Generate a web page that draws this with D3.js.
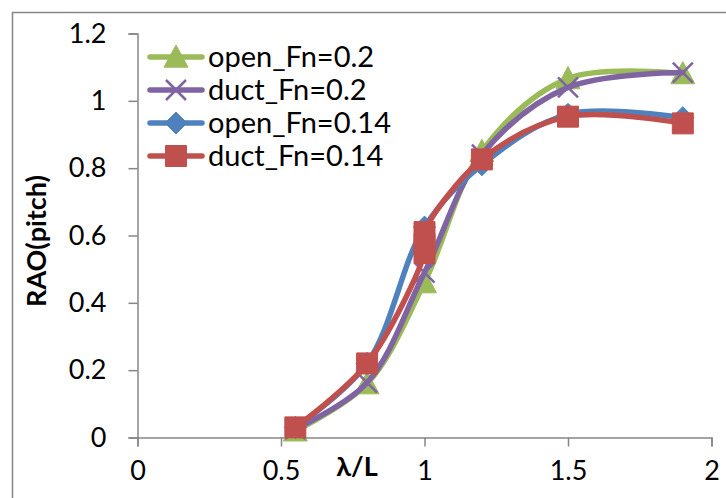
<!DOCTYPE html>
<html>
<head>
<meta charset="utf-8">
<script src="https://cdn.jsdelivr.net/npm/d3@7"></script>
<style>
  html, body { margin: 0; padding: 0; background: #fff; }
  svg { display: block; }
  text { font-family: Lato, "Open Sans", sans-serif; fill: #000; }
</style>
</head>
<body>
<div id="chart"></div>
<script>
// Data
const xLambda = [0.55, 0.8, 1.0, 1.2, 1.5, 1.9];
const openFn02 = [0.02, 0.16, 0.46, 0.85, 1.066, 1.081];
const ductFn02 = [0.025, 0.163, 0.49, 0.84, 1.04, 1.084];
const openFn014 = [0.03, 0.22, 0.625, 0.81, 0.96, 0.95];
// duct_Fn=0.14 has stacked points at λ/L = 1
const xLambdaDuct014 = [0.55, 0.8, 1.0, 1.0, 1.0, 1.2, 1.5, 1.9];
const ductFn014 = [0.03, 0.22, 0.548, 0.575, 0.61, 0.826, 0.953, 0.933];

const xTicks = [0, 0.5, 1, 1.5, 2];
const yTicks = [0, 0.2, 0.4, 0.6, 0.8, 1, 1.2];

const series = [
  { name: 'open_Fn=0.2', xs: xLambda, ys: openFn02, color: '#9BBB59', marker: 'triangle' },
  { name: 'duct_Fn=0.2', xs: xLambda, ys: ductFn02, color: '#8064A2', marker: 'cross' },
  { name: 'open_Fn=0.14', xs: xLambda, ys: openFn014, color: '#4F81BD', marker: 'diamond' },
  { name: 'duct_Fn=0.14', xs: xLambdaDuct014, ys: ductFn014, color: '#C0504D', marker: 'square' }
];

const width = 726;
const height = 498;

const svg = d3.select('#chart')
  .append('svg')
  .attr('width', width)
  .attr('height', height)
  .attr('viewBox', [0, 0, width, height]);

// chart area border
svg.append('rect')
  .attr('x', 12.5)
  .attr('y', 12.5)
  .attr('width', 800)
  .attr('height', 600)
  .attr('fill', 'none')
  .attr('stroke', '#868686')
  .attr('stroke-width', 1.5);

const x = d3.scaleLinear().domain([0, 2]).range([137.5, 711.5]);
const y = d3.scaleLinear().domain([0, 1.2]).range([437.5, 33.5]);

const axisColor = '#868686';

// y axis
const yAxis = svg.append('g')
  .attr('transform', `translate(${x(0)},0)`)
  .call(d3.axisLeft(y).tickValues(yTicks).tickSize(9).tickPadding(22)
    .tickFormat(d => d3.format('~g')(d)));
yAxis.select('.domain').attr('stroke', axisColor).attr('stroke-width', 1.5);
yAxis.selectAll('.tick line').attr('stroke', axisColor).attr('stroke-width', 1.5);
yAxis.selectAll('.tick text')
  .attr('font-size', 27)
  .attr('font-family', 'Lato, sans-serif')
  .attr('fill', '#000');

// x axis
const xAxis = svg.append('g')
  .attr('transform', `translate(0,${y(0)})`)
  .call(d3.axisBottom(x).tickValues(xTicks).tickSize(9).tickPadding(14)
    .tickFormat(d => d3.format('~g')(d)));
xAxis.select('.domain').attr('stroke', axisColor).attr('stroke-width', 1.5);
xAxis.selectAll('.tick line').attr('stroke', axisColor).attr('stroke-width', 1.5);
xAxis.selectAll('.tick text')
  .attr('font-size', 27)
  .attr('font-family', 'Lato, sans-serif')
  .attr('fill', '#000');

// axis titles
svg.append('text')
  .attr('transform', 'translate(46,241) rotate(-90)')
  .attr('text-anchor', 'middle')
  .attr('font-size', 27)
  .attr('font-weight', 'bold')
  .text('RAO(pitch)');

svg.append('text')
  .attr('x', 357)
  .attr('y', 476)
  .attr('text-anchor', 'middle')
  .attr('font-size', 27)
  .attr('font-weight', 'bold')
  .text('λ/L');

// marker shapes
function markerPath(type, cx, cy) {
  const p = d3.path();
  if (type === 'triangle') {
    const s = 12;
    p.moveTo(cx, cy - s);
    p.lineTo(cx + s, cy + s * 0.85);
    p.lineTo(cx - s, cy + s * 0.85);
    p.closePath();
  } else if (type === 'square') {
    const s = 10.5;
    p.rect(cx - s, cy - s, 2 * s, 2 * s);
  } else if (type === 'diamond') {
    const s = 11;
    p.moveTo(cx, cy - s);
    p.lineTo(cx + s, cy);
    p.lineTo(cx, cy + s);
    p.lineTo(cx - s, cy);
    p.closePath();
  } else if (type === 'cross') {
    const s = 10;
    p.moveTo(cx - s, cy - s);
    p.lineTo(cx + s, cy + s);
    p.moveTo(cx + s, cy - s);
    p.lineTo(cx - s, cy + s);
  }
  return p.toString();
}

function drawMarker(g, s, cx, cy) {
  const m = g.append('path').attr('d', markerPath(s.marker, cx, cy));
  if (s.marker === 'cross') {
    m.attr('fill', 'none').attr('stroke', s.color).attr('stroke-width', 2.5);
  } else {
    m.attr('fill', s.color).attr('stroke', s.color).attr('stroke-width', 1);
  }
}

const line = d3.line()
  .x(d => x(d[0]))
  .y(d => y(d[1]))
  .curve(d3.curveCatmullRom.alpha(0.5));

series.forEach(s => {
  const g = svg.append('g');
  const pts = s.xs.map((v, i) => [v, s.ys[i]]);
  g.append('path')
    .datum(pts)
    .attr('d', line)
    .attr('fill', 'none')
    .attr('stroke', s.color)
    .attr('stroke-width', 5.5)
    .attr('stroke-linecap', 'round')
    .attr('stroke-linejoin', 'round');
  pts.forEach(d => drawMarker(g, s, x(d[0]), y(d[1])));
});

// legend
const legend = svg.append('g');
series.forEach((s, i) => {
  const cy = 57 + i * 33;
  legend.append('line')
    .attr('x1', 150).attr('x2', 202)
    .attr('y1', cy).attr('y2', cy)
    .attr('stroke', s.color)
    .attr('stroke-width', 5.5)
    .attr('stroke-linecap', 'round');
  drawMarker(legend, s, 176, cy);
  legend.append('text')
    .attr('x', 208)
    .attr('y', cy)
    .attr('dy', '0.35em')
    .attr('font-size', 29)
    .text(s.name);
});
</script>
</body>
</html>
